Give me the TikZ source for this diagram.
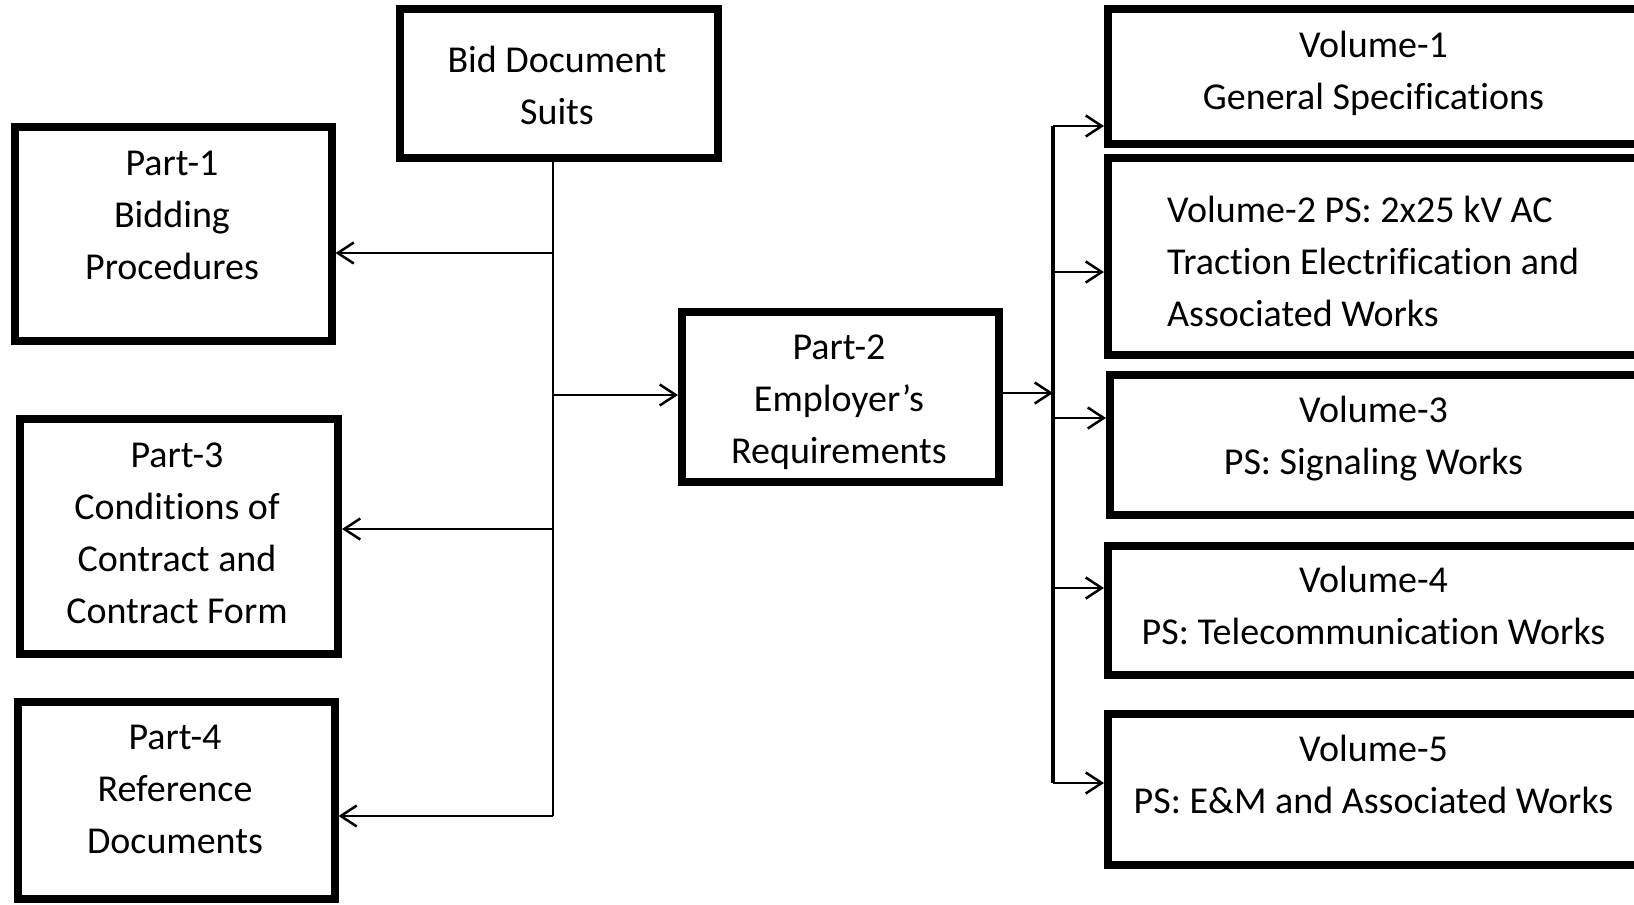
\documentclass[tikz,border=0pt]{standalone}
\usepackage{fontspec}
\setmainfont{Carlito}[Ligatures=CommonOff]
\usetikzlibrary{arrows.meta}
\begin{document}
\begin{tikzpicture}[x=1pt,y=-1pt,
  box/.style={draw=black,line width=8pt,rectangle,inner sep=0pt,fill=none},
  lbl/.style={inner sep=0pt,align=center,font=\fontsize{38}{52}\selectfont,
    execute at begin node=\strut,execute at end node=\strut},
  conn/.style={line width=2.5pt},
  arr/.style={conn,-{Straight Barb[length=16pt,width=21pt,line width=2.5pt]}},
  trunk/.style={line width=4pt}
]
\useasboundingbox (0,0) rectangle (1634,905);
\clip (0,0) rectangle (1634,905);

% boxes (centre, outer size minus line width)
\node[box,minimum width=318pt,minimum height=149pt] (bid) at (559,83.5) {};
\node[box,minimum width=317pt,minimum height=214pt] (p1) at (173,234) {};
\node[box,minimum width=318pt,minimum height=235pt] (p3) at (179,536.5) {};
\node[box,minimum width=317pt,minimum height=197pt] (p4) at (176,800.5) {};
\node[box,minimum width=317pt,minimum height=170pt] (p2) at (840.5,397) {};
\node[box,minimum width=530pt,minimum height=135pt] (v1) at (1373,76.5) {};
\node[box,minimum width=530pt,minimum height=197pt] (v2) at (1373,256.5) {};
\node[box,minimum width=528pt,minimum height=140pt] (v3) at (1374,445) {};
\node[box,minimum width=530pt,minimum height=129pt] (v4) at (1373,610.5) {};
\node[box,minimum width=530pt,minimum height=151pt] (v5) at (1373,789.5) {};

% labels
\node[lbl] (tbid) at (557,93.5) {Bid Document\\Suits};
\node[lbl] (tp1) at (172,223) {Part-1\\Bidding\\Procedures};
\node[lbl] (tp2) at (839,406.5) {Part-2\\Employer’s\\Requirements};
\node[lbl] (tp3) at (177,541) {Part-3\\Conditions of\\Contract and\\Contract Form};
\node[lbl] (tp4) at (175,797) {Part-4\\Reference\\Documents};
\node[lbl] (tv1) at (1373.5,78) {Volume-1\\General Specifications};
\node[lbl,align=left,anchor=west] (tv2) at (1167,269) {Volume-2 PS: 2x25 kV AC\\Traction Electrification and\\Associated Works};
\node[lbl] (tv3) at (1373.5,443.5) {Volume-3\\PS: Signaling Works};
\node[lbl] (tv4) at (1373.5,613.5) {Volume-4\\PS: Telecommunication Works};
\node[lbl] (tv5) at (1373.5,782) {Volume-5\\PS: E\&M and Associated Works};

% left tree
\coordinate (la1) at (553,253);
\coordinate (la2) at (553,395);
\coordinate (la3) at (553,529);
\coordinate (la4) at (553,816);
\draw[conn] (la4 |- bid.south) -- (la4);
\draw[arr] (la1) -- (la1 -| p1.east);
\draw[arr] (la2) -- (la2 -| p2.west);
\draw[arr] (la3) -- (la3 -| p3.east);
\draw[arr] (la4) -- (la4 -| p4.east);

% right tree
\coordinate (rb) at (1053,393);
\coordinate (r1) at (1053,126);
\coordinate (r2) at (1053,272);
\coordinate (r3) at (1053,418);
\coordinate (r4) at (1053,588);
\coordinate (r5) at (1053,783);
\draw[arr] (rb -| p2.east) -- (rb);
\draw[trunk] (r1) -- (r5);
\draw[arr] (r1) -- (r1 -| v1.west);
\draw[arr] (r2) -- (r2 -| v2.west);
\draw[arr] (r3) -- (r3 -| v3.west);
\draw[arr] (r4) -- (r4 -| v4.west);
\draw[arr] (r5) -- (r5 -| v5.west);
\end{tikzpicture}
\end{document}
